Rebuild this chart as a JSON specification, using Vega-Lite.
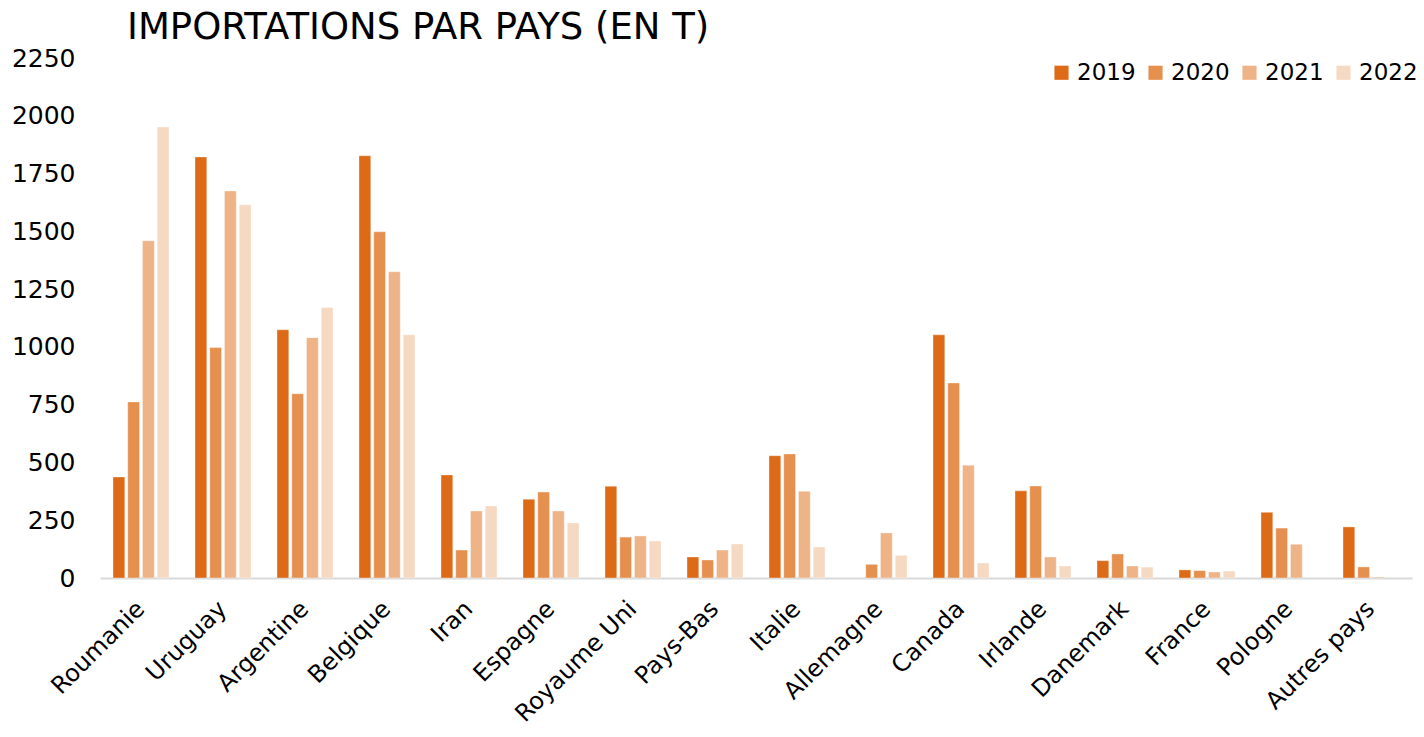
{
  "$schema": "https://vega.github.io/schema/vega-lite/v6.json",
  "width": 1312,
  "height": 520,
  "autosize": {"type": "none"},
  "padding": {"left": 100, "top": 58, "right": 12, "bottom": 159},
  "background": "white",
  "config": {"view": {"stroke": null}, "font": "DejaVu Sans"},
  "title": {
    "text": "IMPORTATIONS PAR PAYS (EN T)",
    "anchor": "start",
    "frame": "group",
    "font": "DejaVu Sans",
    "fontSize": 37,
    "fontWeight": "normal",
    "color": "#000000",
    "dx": 27,
    "dy": 15,
    "offset": 14
  },
  "data": {
    "values": [
      {"pays": "Roumanie", "annee": "2019", "t": 437},
      {"pays": "Roumanie", "annee": "2020", "t": 762},
      {"pays": "Roumanie", "annee": "2021", "t": 1459},
      {"pays": "Roumanie", "annee": "2022", "t": 1951},
      {"pays": "Uruguay", "annee": "2019", "t": 1822},
      {"pays": "Uruguay", "annee": "2020", "t": 997},
      {"pays": "Uruguay", "annee": "2021", "t": 1675},
      {"pays": "Uruguay", "annee": "2022", "t": 1615},
      {"pays": "Argentine", "annee": "2019", "t": 1074},
      {"pays": "Argentine", "annee": "2020", "t": 797},
      {"pays": "Argentine", "annee": "2021", "t": 1040},
      {"pays": "Argentine", "annee": "2022", "t": 1170},
      {"pays": "Belgique", "annee": "2019", "t": 1827},
      {"pays": "Belgique", "annee": "2020", "t": 1498},
      {"pays": "Belgique", "annee": "2021", "t": 1325},
      {"pays": "Belgique", "annee": "2022", "t": 1052},
      {"pays": "Iran", "annee": "2019", "t": 446},
      {"pays": "Iran", "annee": "2020", "t": 121},
      {"pays": "Iran", "annee": "2021", "t": 290},
      {"pays": "Iran", "annee": "2022", "t": 312},
      {"pays": "Espagne", "annee": "2019", "t": 341},
      {"pays": "Espagne", "annee": "2020", "t": 372},
      {"pays": "Espagne", "annee": "2021", "t": 290},
      {"pays": "Espagne", "annee": "2022", "t": 238},
      {"pays": "Royaume Uni", "annee": "2019", "t": 397},
      {"pays": "Royaume Uni", "annee": "2020", "t": 177},
      {"pays": "Royaume Uni", "annee": "2021", "t": 182},
      {"pays": "Royaume Uni", "annee": "2022", "t": 160},
      {"pays": "Pays-Bas", "annee": "2019", "t": 91},
      {"pays": "Pays-Bas", "annee": "2020", "t": 78},
      {"pays": "Pays-Bas", "annee": "2021", "t": 121},
      {"pays": "Pays-Bas", "annee": "2022", "t": 147},
      {"pays": "Italie", "annee": "2019", "t": 529},
      {"pays": "Italie", "annee": "2020", "t": 537},
      {"pays": "Italie", "annee": "2021", "t": 375},
      {"pays": "Italie", "annee": "2022", "t": 134},
      {"pays": "Allemagne", "annee": "2020", "t": 59},
      {"pays": "Allemagne", "annee": "2021", "t": 195},
      {"pays": "Allemagne", "annee": "2022", "t": 98},
      {"pays": "Canada", "annee": "2019", "t": 1052},
      {"pays": "Canada", "annee": "2020", "t": 844},
      {"pays": "Canada", "annee": "2021", "t": 488},
      {"pays": "Canada", "annee": "2022", "t": 65},
      {"pays": "Irlande", "annee": "2019", "t": 377},
      {"pays": "Irlande", "annee": "2020", "t": 398},
      {"pays": "Irlande", "annee": "2021", "t": 91},
      {"pays": "Irlande", "annee": "2022", "t": 52},
      {"pays": "Danemark", "annee": "2019", "t": 75},
      {"pays": "Danemark", "annee": "2020", "t": 104},
      {"pays": "Danemark", "annee": "2021", "t": 52},
      {"pays": "Danemark", "annee": "2022", "t": 47},
      {"pays": "France", "annee": "2019", "t": 35},
      {"pays": "France", "annee": "2020", "t": 32},
      {"pays": "France", "annee": "2021", "t": 26},
      {"pays": "France", "annee": "2022", "t": 30},
      {"pays": "Pologne", "annee": "2019", "t": 284},
      {"pays": "Pologne", "annee": "2020", "t": 216},
      {"pays": "Pologne", "annee": "2021", "t": 146},
      {"pays": "Autres pays", "annee": "2019", "t": 221},
      {"pays": "Autres pays", "annee": "2020", "t": 48},
      {"pays": "Autres pays", "annee": "2021", "t": 4}
    ]
  },
  "mark": {"type": "bar", "stroke": "white", "strokeWidth": 0.6, "strokeOpacity": 0.6},
  "encoding": {
    "x": {
      "field": "pays",
      "type": "nominal",
      "sort": null,
      "title": null,
      "scale": {"paddingInner": 0.317, "paddingOuter": 0.1585},
      "axis": {
        "labelAngle": -45,
        "labelAlign": "right",
        "labelBaseline": "middle",
        "labelFontSize": 24,
        "labelFont": "DejaVu Sans",
        "labelColor": "#000000",
        "labelPadding": 27,
        "ticks": false,
        "domainColor": "#D9D9D9",
        "domainWidth": 2,
        "grid": false
      }
    },
    "xOffset": {
      "field": "annee",
      "type": "nominal",
      "scale": {"paddingInner": 0.2, "paddingOuter": 0}
    },
    "y": {
      "field": "t",
      "type": "quantitative",
      "title": null,
      "scale": {"domain": [0, 2250], "nice": false},
      "axis": {
        "values": [0, 250, 500, 750, 1000, 1250, 1500, 1750, 2000, 2250],
        "format": "d",
        "labelFontSize": 25,
        "labelFont": "DejaVu Sans",
        "labelColor": "#000000",
        "labelPadding": 25,
        "ticks": false,
        "domain": false,
        "grid": false
      }
    },
    "color": {
      "field": "annee",
      "type": "nominal",
      "title": null,
      "scale": {
        "domain": ["2019", "2020", "2021", "2022"],
        "range": ["#DC6A16", "#E5904F", "#EEB387", "#F6D9C3"]
      },
      "legend": {
        "orient": "none",
        "legendX": 950,
        "legendY": 3,
        "direction": "horizontal",
        "symbolType": "square",
        "symbolSize": 200,
        "symbolStrokeWidth": 0,
        "labelFontSize": 23,
        "labelFont": "DejaVu Sans",
        "labelColor": "#000000",
        "labelOffset": 4,
        "columnPadding": 8,
        "padding": 0
      }
    }
  }
}
